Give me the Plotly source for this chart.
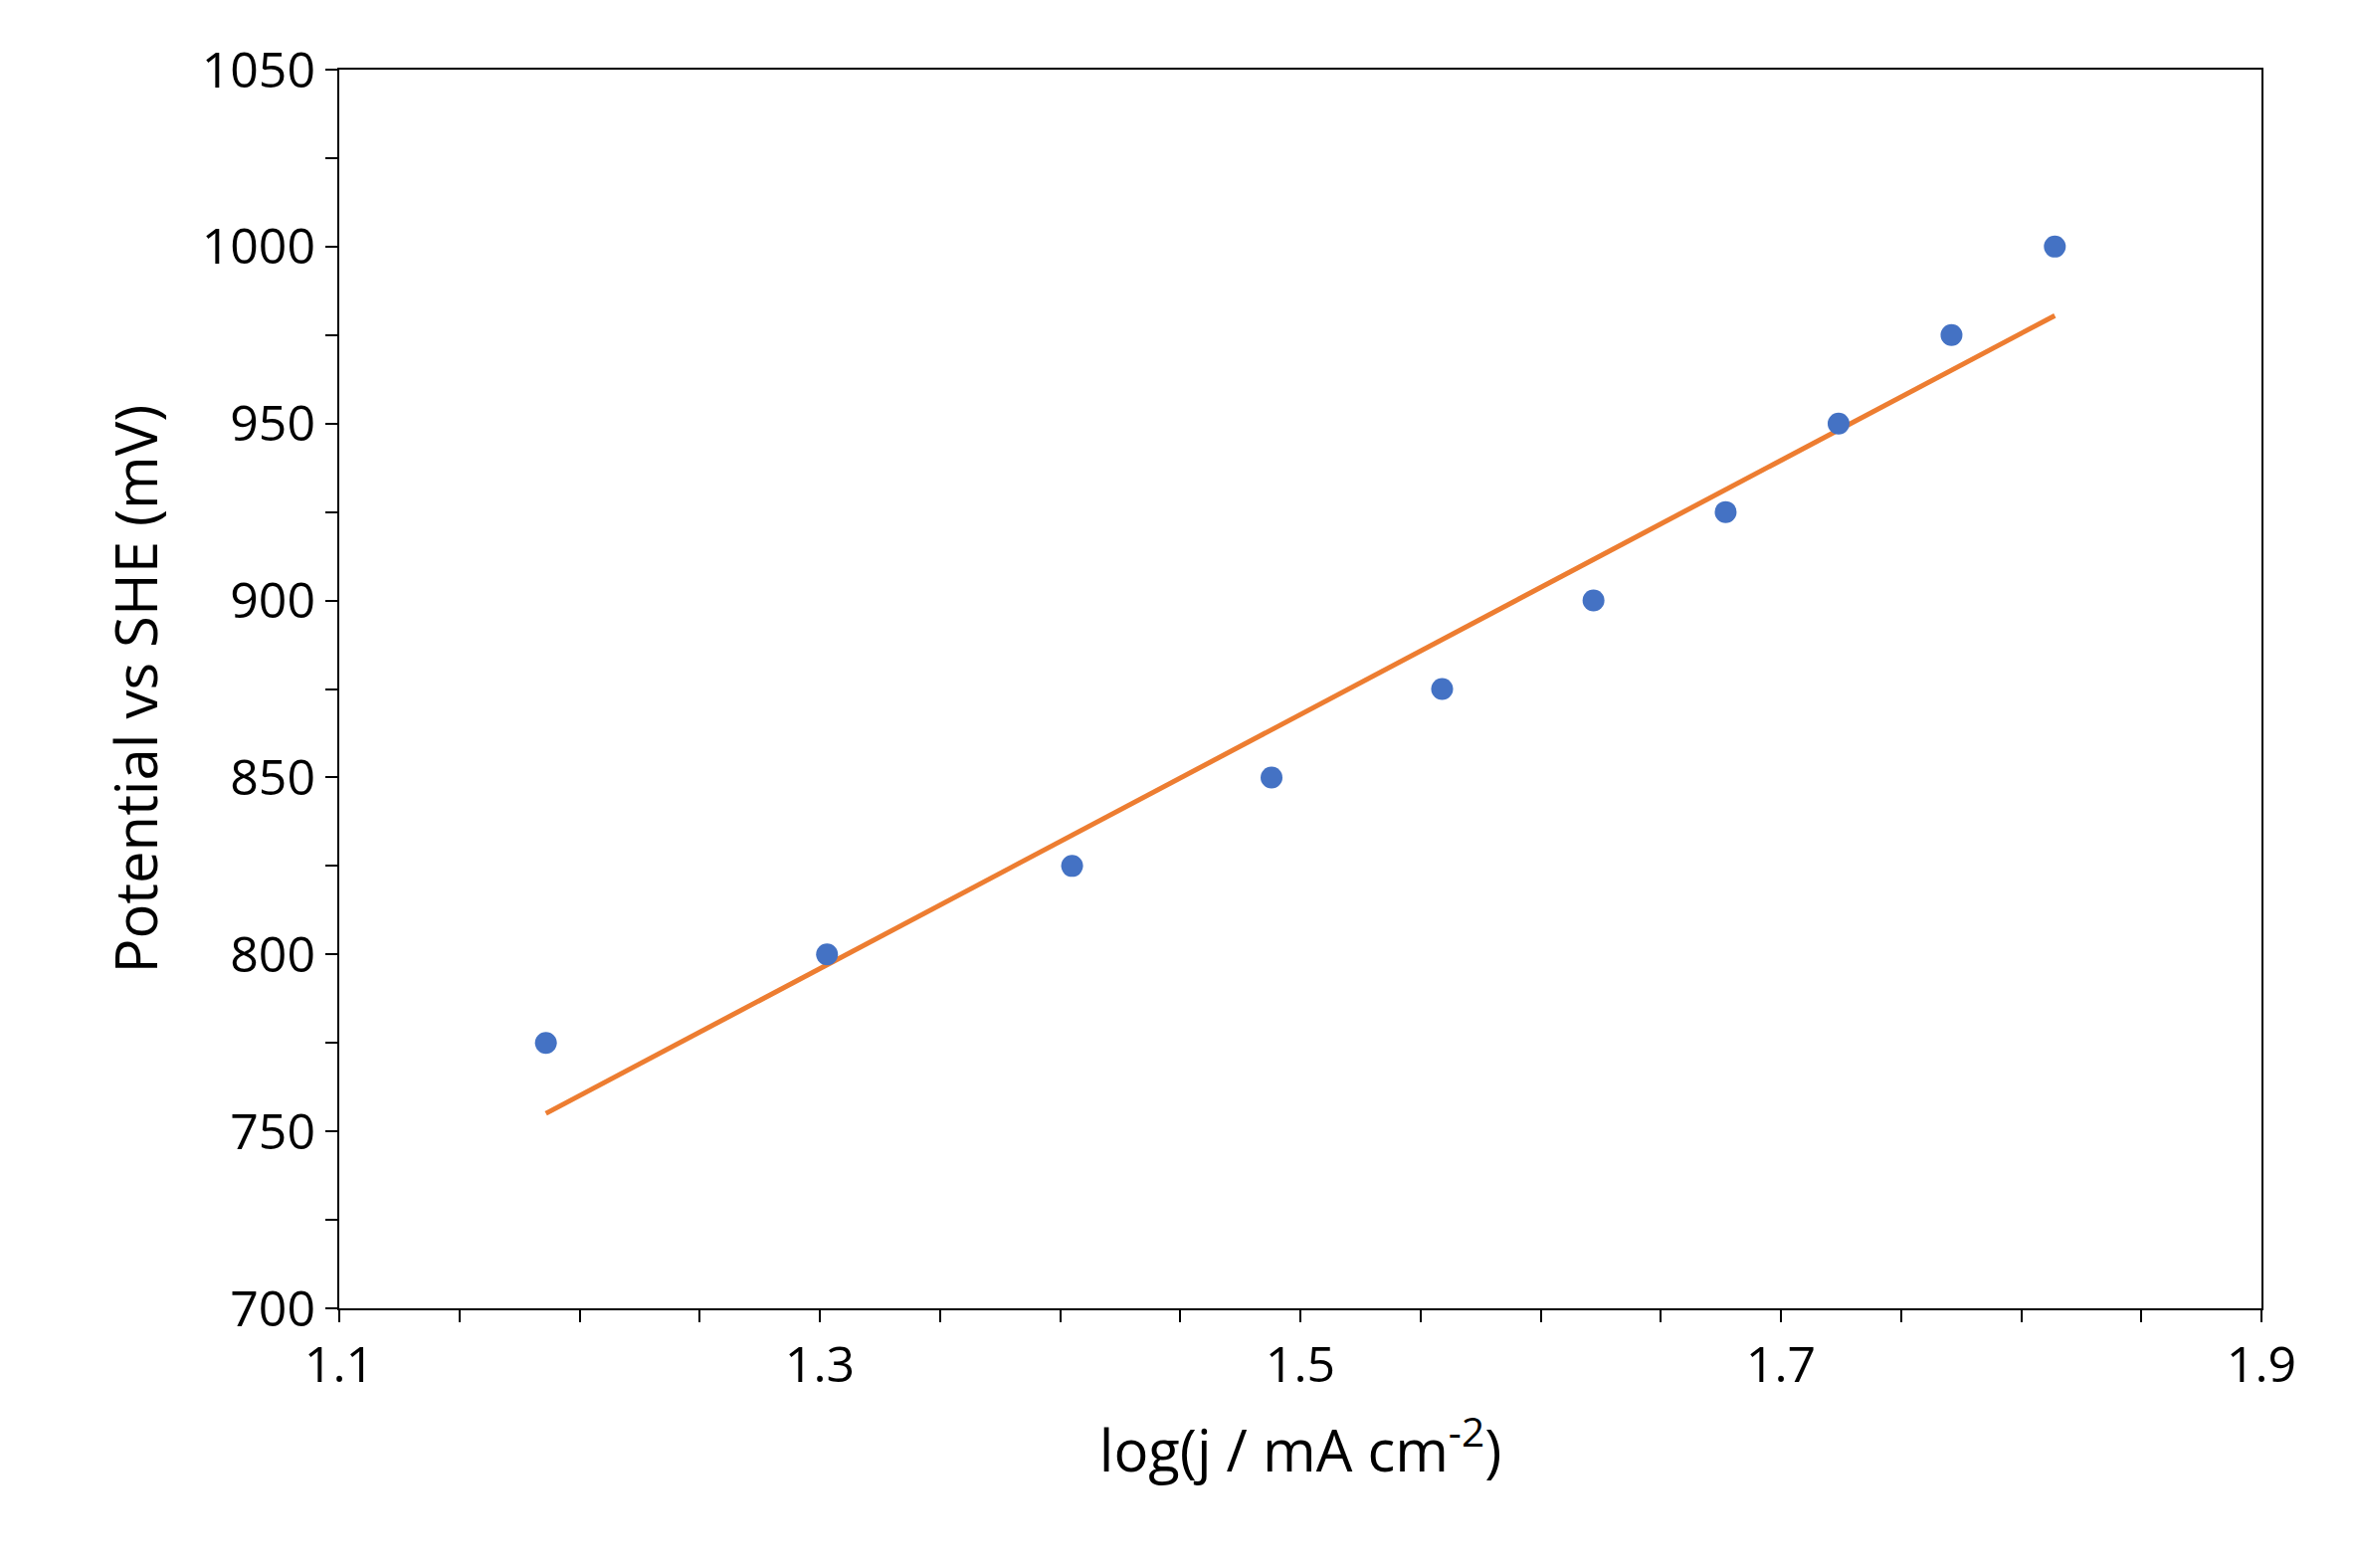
import numpy as np
import plotly.graph_objects as go

log_j = [1.186, 1.303, 1.405, 1.488, 1.559, 1.622, 1.677, 1.724, 1.771, 1.814]
potential = [775, 800, 825, 850, 875, 900, 925, 950, 975, 1000]

slope, intercept = np.polyfit(log_j, potential, 1)
fit_x = [min(log_j), max(log_j)]
fit_y = [slope * x + intercept for x in fit_x]

fig = go.Figure()
fig.add_trace(go.Scatter(x=fit_x, y=fit_y, mode="lines",
                         line=dict(color="#ED7D31", width=5), showlegend=False))
fig.add_trace(go.Scatter(x=log_j, y=potential, mode="markers",
                         marker=dict(color="#4472C4", size=22), showlegend=False))

axis_common = dict(showgrid=False, zeroline=False, showline=True, linecolor="black",
                   linewidth=2, mirror=True, ticks="outside", ticklen=12, tickwidth=2,
                   tickcolor="black", tickfont=dict(size=50, color="black"))
fig.update_xaxes(range=[1.1, 1.9], tick0=1.1, dtick=0.2, tickformat=".1f",
                 minor=dict(tick0=1.1, dtick=0.05, ticks="outside", ticklen=12, tickwidth=2, tickcolor="black"),
                 title=dict(text="log(j / mA cm<sup>-2</sup>)", font=dict(size=58, color="black"), standoff=35),
                 **axis_common)
fig.update_yaxes(range=[700, 1050], dtick=50,
                 minor=dict(dtick=25, ticks="outside", ticklen=12, tickwidth=2, tickcolor="black"),
                 title=dict(text="Potential vs SHE (mV)", font=dict(size=58, color="black"), standoff=25),
                 **axis_common)
fig.update_layout(width=2365, height=1576, plot_bgcolor="white", paper_bgcolor="white",
                  font=dict(family="Open Sans"),
                  margin=dict(l=333, r=100, t=62, b=269))
fig.write_html("out.html")
